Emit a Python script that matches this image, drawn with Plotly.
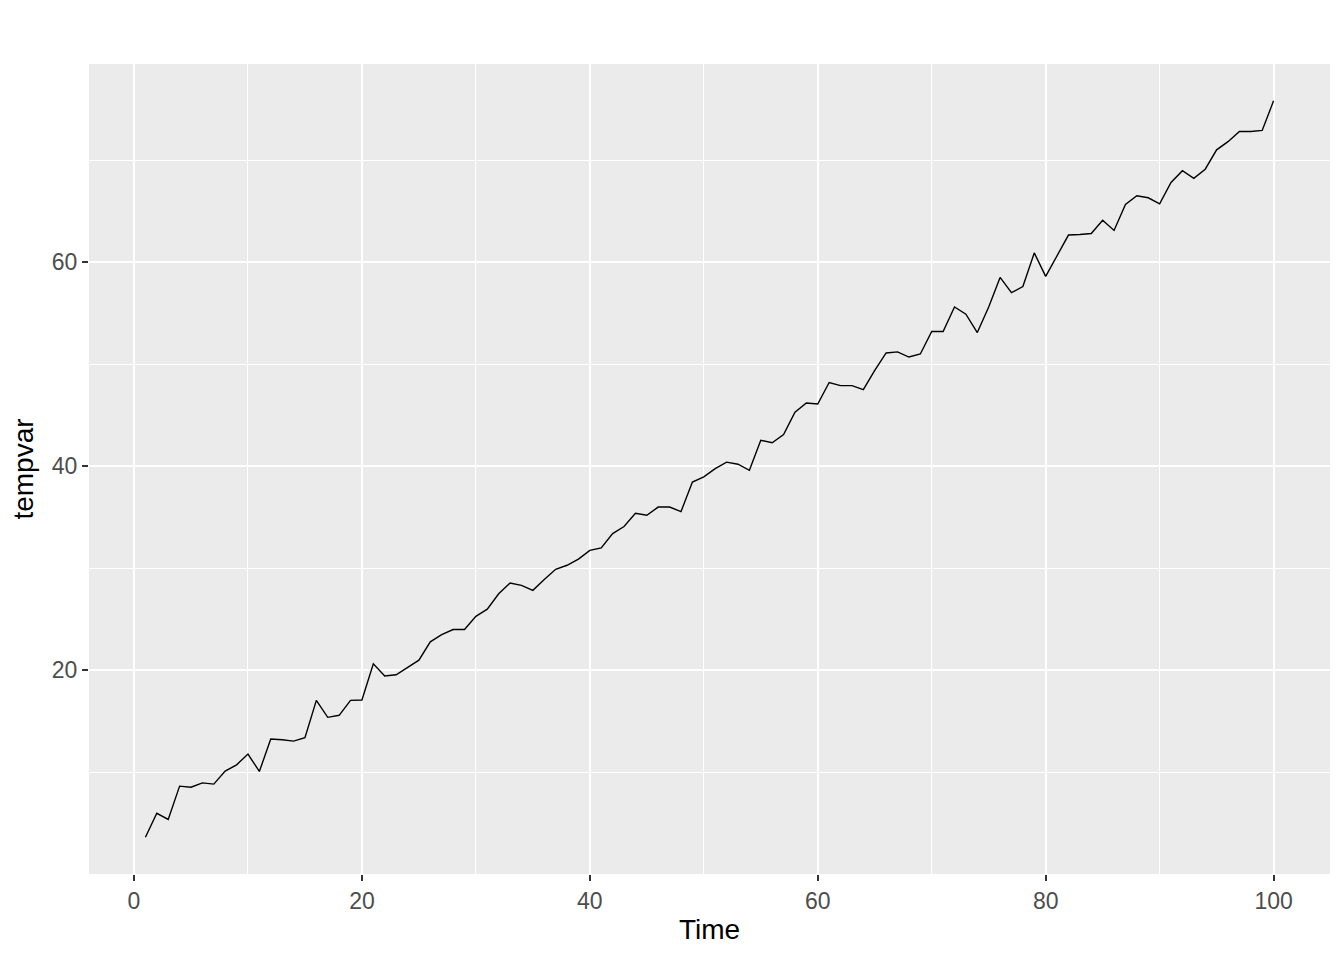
import plotly.graph_objects as go

time = list(range(1, 101))
tempvar = [
    3.66, 6.0, 5.4, 8.66, 8.56, 8.98, 8.86, 10.13, 10.75, 11.8,
    10.1, 13.27, 13.2, 13.07, 13.4, 17.06, 15.4, 15.6, 17.06, 17.1,
    20.65, 19.45, 19.57, 20.3, 21.0, 22.8, 23.5, 24.0, 24.0, 25.3,
    26.0, 27.5, 28.56, 28.33, 27.84, 28.9, 29.9, 30.3, 30.9, 31.76,
    32.0, 33.4, 34.1, 35.4, 35.2, 36.0, 36.0, 35.56, 38.45, 38.96,
    39.77, 40.4, 40.2, 39.6, 42.55, 42.3, 43.1, 45.3, 46.2, 46.1,
    48.2, 47.9, 47.9, 47.5, 49.4, 51.1, 51.2, 50.7, 51.0, 53.2,
    53.2, 55.6, 54.9, 53.1, 55.6, 58.5, 57.0, 57.6, 60.9, 58.6,
    60.7, 62.65, 62.7, 62.8, 64.1, 63.1, 65.65, 66.5, 66.3, 65.7,
    67.8, 68.95, 68.2, 69.1, 71.0, 71.8, 72.8, 72.8, 72.9, 75.8,
]
x_ticks = [0, 20, 40, 60, 80, 100]
y_ticks = [20, 40, 60]

fig = go.Figure(
    go.Scatter(x=time, y=tempvar, mode="lines",
               line=dict(color="black", width=1.4), hoverinfo="skip")
)

xmin, xmax = min(time), max(time)
ymin, ymax = min(tempvar), max(tempvar)
xpad = 0.05 * (xmax - xmin)
ypad = 0.05 * (ymax - ymin)

FONT = "Liberation Sans, Arial, sans-serif"
axis_common = dict(
    showgrid=True, gridcolor="white", gridwidth=2,
    zeroline=False, showline=False,
    ticks="outside", ticklen=6, tickwidth=2, tickcolor="#333333",
    tickfont=dict(family=FONT, size=23, color="#4D4D4D"),
    title_font=dict(family=FONT, size=28, color="black"),
    minor=dict(showgrid=True, gridcolor="white", gridwidth=1, ticks=""),
)

fig.update_layout(
    width=1344, height=960,
    margin=dict(l=81, r=22, t=56, b=94),
    paper_bgcolor="white", plot_bgcolor="#EBEBEB",
    showlegend=False,
    xaxis=dict(axis_common, range=[xmin - xpad, xmax + xpad],
               tickmode="array", tickvals=x_ticks, ticktext=[str(v) for v in x_ticks],
               title=dict(text="Time", standoff=6)),
    yaxis=dict(axis_common, range=[ymin - ypad, ymax + ypad],
               tickmode="array", tickvals=y_ticks, ticktext=[str(v) for v in y_ticks],
               title=dict(text="tempvar", standoff=10)),
)
fig.update_xaxes(minor=dict(tickvals=[10, 30, 50, 70, 90]))
fig.update_yaxes(minor=dict(tickvals=[10, 30, 50, 70]))

fig.write_html("out.html")
